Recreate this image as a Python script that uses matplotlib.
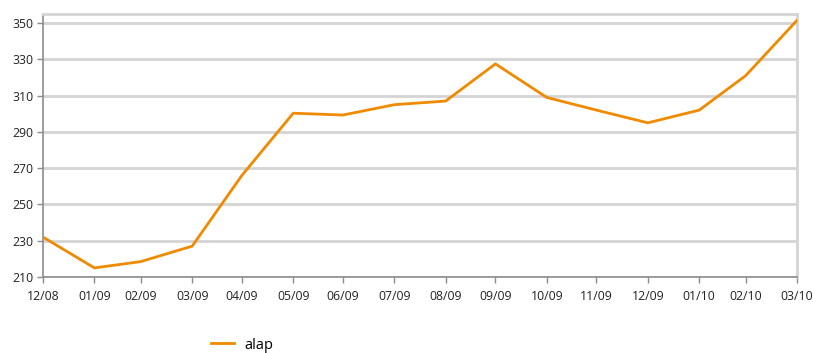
import datetime as dt

import matplotlib
matplotlib.use("Agg")
import matplotlib.pyplot as plt

plt.rcParams["font.family"] = ["Open Sans", "DejaVu Sans"]

# month-end observation dates
dates = [
    dt.date(2008, 12, 31), dt.date(2009, 1, 31), dt.date(2009, 2, 28),
    dt.date(2009, 3, 31), dt.date(2009, 4, 30), dt.date(2009, 5, 31),
    dt.date(2009, 6, 30), dt.date(2009, 7, 31), dt.date(2009, 8, 31),
    dt.date(2009, 9, 30), dt.date(2009, 10, 31), dt.date(2009, 11, 30),
    dt.date(2009, 12, 31), dt.date(2010, 1, 31), dt.date(2010, 2, 28),
    dt.date(2010, 3, 31),
]
tick_labels = ["12/08", "01/09", "02/09", "03/09", "04/09", "05/09", "06/09",
               "07/09", "08/09", "09/09", "10/09", "11/09", "12/09", "01/10",
               "02/10", "03/10"]
alap = [232, 215, 218.5, 227, 266, 300.3, 299.3, 305, 307, 327.5,
        309, 302, 295, 302, 321, 351.5]
y_ticks = [210, 230, 250, 270, 290, 310, 330, 350]

fig = plt.figure(figsize=(8.13, 3.53), dpi=100)
ax = fig.add_axes([43 / 813, 1 - 277 / 353, (797 - 43) / 813, (277 - 14) / 353])

ax.plot(dates, alap, color="#f08a00", linewidth=2.0, label="alap", zorder=3)

ax.set_xlim(dates[0], dates[-1])
ax.set_ylim(210, 355)
ax.set_xticks(dates)
ax.set_xticklabels(tick_labels)
ax.set_yticks(y_ticks)

ax.grid(axis="y", color="#d4d4d4", linewidth=2.0, zorder=0)
ax.set_axisbelow(True)

ax.spines["left"].set_color("#8c8c8c")
ax.spines["bottom"].set_color("#8c8c8c")
ax.spines["left"].set_linewidth(1.2)
ax.spines["bottom"].set_linewidth(1.2)
for side in ("top", "right"):
    ax.spines[side].set_color("#d4d4d4")
    ax.spines[side].set_linewidth(2.0)

ax.tick_params(axis="both", colors="#8c8c8c", labelcolor="#222222",
               labelsize=8.8, length=4, width=1)
ax.tick_params(axis="x", pad=5)
ax.tick_params(axis="y", pad=3)

fig.legend(loc="lower left", bbox_to_anchor=(198 / 813, -0.036), frameon=False,
           fontsize=10.5, handlelength=1.6, handletextpad=0.7)

plt.savefig("out.png", dpi=100)
plt.close(fig)
